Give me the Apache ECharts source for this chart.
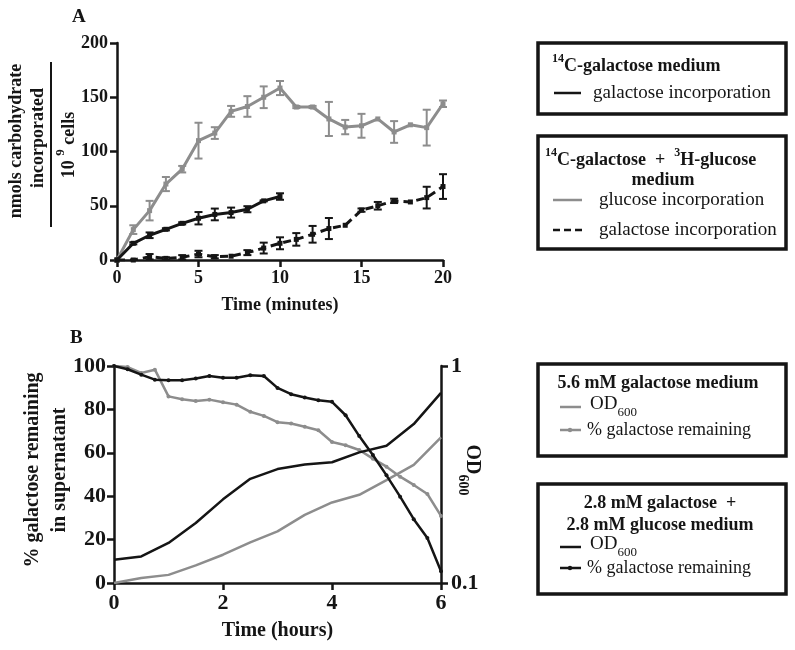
<!DOCTYPE html>
<html><head><meta charset="utf-8">
<script src="https://cdn.jsdelivr.net/npm/echarts@6/dist/echarts.min.js"></script>
<style>html,body{margin:0;padding:0;background:#fff}#c{width:795px;height:650px}</style>
</head><body><div id="c"></div>
<script>
// ---------- Panel A data (time in minutes) ----------
const minutes = [0,1,2,3,4,5,6,7,8,9,10,11,12,13,14,15,16,17,18,19,20];
const minutes10 = [0,1,2,3,4,5,6,7,8,9,10];
const glucoseInc = [0,28,45.5,70,83.7,110,117,137,141.5,150,158.5,141,141,130,122.5,123.7,130,118,124.6,122,144];
const glucoseIncErr = [0,4,9,6.5,3,16.5,5.4,5,9.5,10,6.5,1,1,15.7,6.6,11,0,10,0,16.5,3];
const galIncSingle = [0,15.4,22.8,28.3,33.8,38.5,42,43.7,46.8,54.5,58.5];
const galIncSingleErr = [0,1,2.6,1,1,5.7,5.4,4.6,2.8,0.5,3];
const galIncMixed = [0,0,3,1.5,2.5,5.5,3,3.5,6.8,11,15.4,19,23.7,29,32,46,50,54.5,53.5,57.5,67.7];
const galIncMixedErr = [0,0,2.5,1,2,3,1.5,0,2.3,5,5.5,5.8,7.7,9.7,0,1.5,3.5,2,0,10,11.4];
const ticksA_x = [0,5,10,15,20];
const ticksA_y = [0,50,100,150,200];

// ---------- Panel B data (time in hours) ----------
const hoursQ = [0,0.25,0.5,0.75,1,1.25,1.5,1.75,2,2.25,2.5,2.75,3,3.25,3.5,3.75,4,4.25,4.5,4.75,5,5.25,5.5,5.75,6];
const hoursH = [0,0.5,1,1.5,2,2.5,3,3.5,4,4.5,5,5.5,6];
const galRemain56 = [100,99.5,96.8,98.3,86,84.7,83.9,84.5,83.3,82.2,78.9,77,74.1,73.5,72,70.4,65,63.5,61.3,57.3,53.6,49,45.2,41,30.9];
const galRemainMix = [100,98.5,96,93.7,93.4,93.4,94.2,95.4,94.6,94.6,95.7,95.4,89.9,87,85.5,84.2,83.5,77.3,67.7,59,49.6,39.8,29.4,20.7,5.4];
const od56 = [0.1,0.1054,0.109,0.1205,0.135,0.154,0.173,0.206,0.235,0.255,0.298,0.35,0.469];
const odMix = [0.128,0.1326,0.153,0.189,0.243,0.302,0.335,0.352,0.36,0.4,0.429,0.54,0.752];

const GRAY = '#8d8d8d', BLACK = '#151515';
const SERIF = '"Liberation Serif","Times New Roman",serif';

function pairs(xs, ys){ return xs.map((x,i)=>[x, ys[i]]); }
function errData(xs, ys, es){ const out=[]; xs.forEach((x,i)=>{ if(es[i]>0) out.push([x, ys[i]-es[i], ys[i]+es[i]]); }); return out; }
function errSeries(data, color){
  return {type:'custom', xAxisIndex:0, yAxisIndex:0, data:data, z:5,
    encode:{x:0, y:[1,2]},
    renderItem:function(params, api){
      const x=api.value(0), lo=api.value(1), hi=api.value(2);
      const a=api.coord([x,hi]), b=api.coord([x,lo]); const w=4;
      const st={stroke:color, lineWidth:2};
      return {type:'group', children:[
        {type:'line', shape:{x1:a[0],y1:a[1],x2:b[0],y2:b[1]}, style:st},
        {type:'line', shape:{x1:a[0]-w,y1:a[1],x2:a[0]+w,y2:a[1]}, style:st},
        {type:'line', shape:{x1:b[0]-w,y1:b[1],x2:b[0]+w,y2:b[1]}, style:st}
      ]};
    }};
}

const axisLine = {show:true, onZero:false, lineStyle:{color:BLACK, width:2.5}};
const axisTick = {show:true, inside:false, length:7, lineStyle:{color:BLACK, width:2.5}};

function txt(x,y,text,opt){
  opt = opt||{};
  const st = Object.assign({text:text, x:0, y:0, fill:BLACK, fontFamily:SERIF, fontSize:opt.size||18,
    fontWeight:opt.bold?'bold':'normal', align:opt.align||'left', verticalAlign:'middle',
    textAlign:opt.align||'left', textVerticalAlign:'middle'}, opt.rich?{rich:opt.rich}:{});
  return {type:'text', x:x, y:y, rotation:opt.rot||0, style:st, z:10};
}
function ln(x1,y1,x2,y2,color,w,dash){
  return {type:'line', shape:{x1:x1,y1:y1,x2:x2,y2:y2}, style:{stroke:color, lineWidth:w, lineDash:dash||null}, z:10};
}
function box(x,y,w,h){ return {type:'rect', shape:{x:x,y:y,width:w,height:h}, style:{fill:'#fff', stroke:BLACK, lineWidth:3.5}, z:9}; }
function dot(x,y,color){ return {type:'circle', shape:{cx:x,cy:y,r:2.2}, style:{fill:color}, z:11}; }

const supRich = {
  s:{fontSize:12, fontWeight:'bold', fontFamily:SERIF, verticalAlign:'top', lineHeight:22, fill:BLACK},
  b:{fontSize:18, fontWeight:'bold', fontFamily:SERIF, verticalAlign:'bottom', lineHeight:22, fill:BLACK}
};
const subRich = {
  n:{fontSize:19, fontFamily:SERIF, verticalAlign:'top', lineHeight:24, fill:BLACK},
  u:{fontSize:13, fontFamily:SERIF, verticalAlign:'bottom', lineHeight:24, fill:BLACK}
};
const subRichBold = {
  n:{fontSize:20, fontWeight:'bold', fontFamily:SERIF, verticalAlign:'top', lineHeight:26, fill:BLACK},
  u:{fontSize:14, fontWeight:'bold', fontFamily:SERIF, verticalAlign:'bottom', lineHeight:26, fill:BLACK}
};
const cellsRich = {
  n:{fontSize:18, fontWeight:'bold', fontFamily:SERIF, verticalAlign:'bottom', lineHeight:24, fill:BLACK},
  s:{fontSize:13, fontWeight:'bold', fontFamily:SERIF, verticalAlign:'top', lineHeight:24, fill:BLACK}
};

const graphics = [
  txt(72,17,'A',{bold:true,size:19}),
  txt(70,338,'B',{bold:true,size:19}),
  // panel A y title
  txt(16,141,'nmols carbohydrate',{bold:true,size:18,align:'center',rot:Math.PI/2}),
  txt(38,138,'incorporated',{bold:true,size:18,align:'center',rot:Math.PI/2}),
  ln(51,62,51,227,BLACK,2),
  txt(66,145,'{n|10 }{s|9}{n| cells}',{align:'center',rot:Math.PI/2,rich:cellsRich}),
  // panel B y titles
  txt(33,470,'% galactose remaining',{bold:true,size:20,align:'center',rot:Math.PI/2}),
  txt(60,470,'in supernatant',{bold:true,size:20,align:'center',rot:Math.PI/2}),
  txt(469,470,'{n|OD}{u|600}',{align:'center',rot:-Math.PI/2,rich:subRichBold}),
  // legend box 1
  box(538,43,248,71),
  txt(552,64,'{s|14}{b|C-galactose medium}',{rich:supRich}),
  ln(554,93,581,93,BLACK,2.5),
  txt(593,93,'galactose incorporation',{size:19}),
  // legend box 2
  box(538,136,248,113),
  txt(545,158,'{s|14}{b|C-galactose  +  }{s|3}{b|H-glucose}',{rich:supRich}),
  txt(663,180,'medium',{bold:true,size:18,align:'center'}),
  ln(553,200,582,200,GRAY,2.5),
  txt(599,200,'glucose incorporation',{size:19}),
  ln(553,230,582,230,BLACK,2.5,[7,4]),
  txt(599,230,'galactose incorporation',{size:19}),
  // legend box 3
  box(538,364,248,92),
  txt(658,383,'5.6 mM galactose medium',{bold:true,size:18,align:'center'}),
  ln(560,407,581,407,GRAY,2.5),
  txt(590,407,'{n|OD}{u|600}',{rich:subRich}),
  ln(560,430,581,430,GRAY,2.5), dot(570,430,GRAY),
  txt(587,430,'% galactose remaining',{size:18}),
  // legend box 4
  box(538,484,248,110),
  txt(660,503,'2.8 mM galactose  +',{bold:true,size:18,align:'center'}),
  txt(660,525,'2.8 mM glucose medium',{bold:true,size:18,align:'center'}),
  ln(560,547,581,547,BLACK,2.5),
  txt(590,547,'{n|OD}{u|600}',{rich:subRich}),
  ln(560,568,581,568,BLACK,2.5), dot(570,568,BLACK),
  txt(587,568,'% galactose remaining',{size:18})
];

const labelA = {fontFamily:SERIF, fontWeight:'bold', fontSize:18, color:BLACK};
const labelB = {fontFamily:SERIF, fontWeight:'bold', fontSize:22, color:BLACK};

const option = {
  backgroundColor:'#fff',
  animation:false,
  grid:[
    {left:117, top:43, width:326, height:217},
    {left:114, top:366, width:327, height:217}
  ],
  xAxis:[
    {gridIndex:0, type:'value', min:0, max:20, interval:5, axisLine:axisLine, axisTick:axisTick,
     axisLabel:Object.assign({margin:9, customValues:ticksA_x}, labelA), splitLine:{show:false},
     name:'Time (minutes)', nameLocation:'middle', nameGap:36,
     nameTextStyle:{fontFamily:SERIF, fontWeight:'bold', fontSize:18, color:BLACK}},
    {gridIndex:1, type:'value', min:0, max:6, interval:2, axisLine:axisLine, axisTick:axisTick,
     axisLabel:Object.assign({margin:9}, labelB), splitLine:{show:false},
     name:'Time (hours)', nameLocation:'middle', nameGap:38,
     nameTextStyle:{fontFamily:SERIF, fontWeight:'bold', fontSize:20, color:BLACK}}
  ],
  yAxis:[
    {gridIndex:0, type:'value', min:0, max:200, interval:50, axisLine:axisLine, axisTick:axisTick,
     axisLabel:Object.assign({margin:9}, labelA), splitLine:{show:false}},
    {gridIndex:1, type:'value', min:0, max:100, interval:20, axisLine:axisLine, axisTick:axisTick,
     axisLabel:Object.assign({margin:8}, labelB), splitLine:{show:false}},
    {gridIndex:1, type:'log', logBase:10, min:0.1, max:1, position:'right', axisLine:axisLine, axisTick:axisTick,
     minorTick:{show:false}, axisLabel:Object.assign({margin:10}, labelB), splitLine:{show:false}}
  ],
  graphic:{elements:graphics},
  series:[
    {type:'line', xAxisIndex:0, yAxisIndex:0, data:pairs(minutes, glucoseInc), symbol:'rect', symbolSize:5,
     lineStyle:{color:GRAY, width:3}, itemStyle:{color:GRAY}, z:3},
    {type:'line', xAxisIndex:0, yAxisIndex:0, data:pairs(minutes10, galIncSingle), symbol:'rect', symbolSize:5,
     lineStyle:{color:BLACK, width:3}, itemStyle:{color:BLACK}, z:4},
    {type:'line', xAxisIndex:0, yAxisIndex:0, data:pairs(minutes, galIncMixed), symbol:'rect', symbolSize:5,
     lineStyle:{color:BLACK, width:3, type:[8,5]}, itemStyle:{color:BLACK}, z:4},
    errSeries(errData(minutes, glucoseInc, glucoseIncErr), GRAY),
    errSeries(errData(minutes10, galIncSingle, galIncSingleErr), BLACK),
    errSeries(errData(minutes, galIncMixed, galIncMixedErr), BLACK),
    {type:'line', xAxisIndex:1, yAxisIndex:1, data:pairs(hoursQ, galRemain56), symbol:'circle', symbolSize:4,
     lineStyle:{color:GRAY, width:2.5}, itemStyle:{color:GRAY}, z:3},
    {type:'line', xAxisIndex:1, yAxisIndex:1, data:pairs(hoursQ, galRemainMix), symbol:'circle', symbolSize:4,
     lineStyle:{color:BLACK, width:2.5}, itemStyle:{color:BLACK}, z:4},
    {type:'line', xAxisIndex:1, yAxisIndex:2, data:pairs(hoursH, od56), showSymbol:false, symbol:'none',
     lineStyle:{color:GRAY, width:2.5}, z:3},
    {type:'line', xAxisIndex:1, yAxisIndex:2, data:pairs(hoursH, odMix), showSymbol:false, symbol:'none',
     lineStyle:{color:BLACK, width:2.5}, z:4}
  ]
};
const chart = echarts.init(document.getElementById('c'), null, {renderer:'canvas'});
chart.setOption(option);
</script></body></html>
